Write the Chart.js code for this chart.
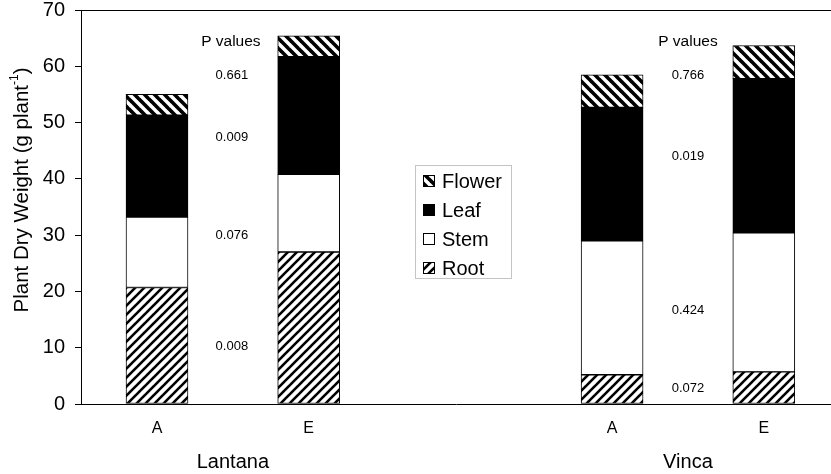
<!DOCTYPE html>
<html>
<head>
<meta charset="utf-8">
<script src="https://cdn.jsdelivr.net/npm/chart.js@4/dist/chart.umd.min.js"></script>
<style>
  html,body{margin:0;padding:0;background:#fff;}
  #wrap{width:831px;height:474px;position:relative;}
</style>
</head>
<body>
<div id="wrap"><canvas id="c" width="831" height="474"></canvas></div>
<script>
/* Plant dry weight by organ, Lantana and Vinca */
const positions=[1,2,4,5];
const tickLabels=['A','E','A','E'];
const groups=['Lantana','Vinca'];
const groupPos=[1.5,4.5];
const rootVals=[20.7,27.0,5.2,5.7];
const stemVals=[12.5,13.8,23.8,24.7];
const leafVals=[18.1,20.9,23.7,27.4];
const flowerVals=[3.7,3.7,5.8,5.9];
const pHeader='P values';
const pLantana=['0.661','0.009','0.076','0.008'];
const pLantanaY=[58.4,47.4,29.9,10.2];
const pVinca=['0.766','0.019','0.424','0.072'];
const pVincaY=[58.4,44.0,16.6,2.7];
const pHeaderY=64.3;
const legendOrder=['Flower','Leaf','Stem','Root'];

const FONT='"Liberation Sans", Arial, sans-serif';

function hatch(dir,period,lw){
  const cv=document.createElement('canvas');cv.width=period;cv.height=period;
  const g=cv.getContext('2d');g.fillStyle='#fff';g.fillRect(0,0,period,period);
  g.strokeStyle='#000';g.lineWidth=lw;g.lineCap='square';
  for(let k=-1;k<=1;k++){
    g.beginPath();
    if(dir==='/'){g.moveTo(k*period,period);g.lineTo(k*period+period,0);}
    else{g.moveTo(k*period,0);g.lineTo(k*period+period,period);}
    g.stroke();
  }
  return document.getElementById('c').getContext('2d').createPattern(cv,'repeat');
}
const rootFill=hatch('/',9,2.6);
const flowerFill=hatch('\\',10,3.6);

function pts(vals){return vals.map(function(v,i){return{x:positions[i],y:v};});}
function ds(label,vals,fill){
  return{label:label,data:pts(vals),backgroundColor:fill,borderColor:'#000',borderWidth:1,barThickness:62,borderSkipped:false};
}

const extras={
  id:'extras',
  afterDraw:function(chart){
    const ctx=chart.ctx,x=chart.scales.x,y=chart.scales.y,a=chart.chartArea;
    ctx.save();
    // top frame line
    ctx.strokeStyle='#000';ctx.lineWidth=1;
    ctx.beginPath();ctx.moveTo(a.left,Math.round(a.top)+0.5);ctx.lineTo(a.right,Math.round(a.top)+0.5);ctx.stroke();
    ctx.fillStyle='#000';ctx.textAlign='center';ctx.textBaseline='middle';
    // group labels
    ctx.font='20px '+FONT;
    groups.forEach(function(g,i){ctx.fillText(g,x.getPixelForValue(groupPos[i]),462);});
    // p values
    ctx.font='15.5px '+FONT;
    ctx.fillText(pHeader,x.getPixelForValue(groupPos[0])-2,y.getPixelForValue(pHeaderY));
    ctx.fillText(pHeader,x.getPixelForValue(groupPos[1]),y.getPixelForValue(pHeaderY));
    ctx.font='13px '+FONT;
    pLantana.forEach(function(t,i){ctx.fillText(t,x.getPixelForValue(groupPos[0])-1,y.getPixelForValue(pLantanaY[i]));});
    pVinca.forEach(function(t,i){ctx.fillText(t,x.getPixelForValue(groupPos[1]),y.getPixelForValue(pVincaY[i]));});
    // y title with superscript
    ctx.translate(22,190);ctx.rotate(-Math.PI/2);
    ctx.textAlign='left';
    const main='Plant Dry Weight (g plant',sup='-1',end=')';
    ctx.font='20.5px '+FONT;const w1=ctx.measureText(main).width,w3=ctx.measureText(end).width;
    ctx.font='12px '+FONT;const w2=ctx.measureText(sup).width;
    let sx=-(w1+w2+w3)/2;
    ctx.font='20.5px '+FONT;ctx.fillText(main,sx,0);sx+=w1;
    ctx.font='12px '+FONT;ctx.fillText(sup,sx,-7);sx+=w2;
    ctx.font='20.5px '+FONT;ctx.fillText(end,sx,0);
    ctx.restore();
    // legend box
    ctx.save();
    const bx=415,by=165,bw=96,bh=113;
    ctx.strokeStyle='#888';ctx.lineWidth=1;ctx.setLineDash([1,1]);
    ctx.strokeRect(bx+0.5,by+0.5,bw,bh);ctx.setLineDash([]);
    const dsByLabel={};chart.data.datasets.forEach(function(d){dsByLabel[d.label]=d;});
    ctx.font='20px '+FONT;ctx.textBaseline='middle';ctx.textAlign='left';
    legendOrder.forEach(function(l,i){
      const cy=181+i*29;const d=dsByLabel[l];
      ctx.fillStyle=d.backgroundColor;ctx.fillRect(423,cy-6,12,12);
      ctx.strokeStyle='#000';ctx.lineWidth=1;ctx.strokeRect(423.5,cy-5.5,11,11);
      ctx.fillStyle='#000';ctx.fillText(l,442,cy+1);
    });
    ctx.restore();
  }
};

new Chart(document.getElementById('c'),{
  type:'bar',
  data:{datasets:[ds('Root',rootVals,rootFill),ds('Stem',stemVals,'#fff'),ds('Leaf',leafVals,'#000'),ds('Flower',flowerVals,flowerFill)]},
  options:{
    responsive:false,animation:false,
    layout:{padding:{top:10,right:0,left:0,bottom:0}},
    plugins:{legend:{display:false},tooltip:{enabled:false}},
    scales:{
      x:{type:'linear',stacked:true,min:0.499,max:5.443,offset:false,
        afterBuildTicks:function(s){s.ticks=positions.map(function(p){return{value:p};});},
        afterFit:function(s){s.height=70;s.paddingLeft=0;s.paddingRight=0;},
        ticks:{color:'#000',font:{family:FONT,size:16},padding:15,autoSkip:false,maxRotation:0,
          callback:function(v){const i=positions.indexOf(v);return i>=0?tickLabels[i]:'';}},
        grid:{display:false,offset:false,drawOnChartArea:false,drawTicks:false},
        border:{display:true,color:'#000',width:1}},
      y:{stacked:true,min:0,max:70,
        afterFit:function(s){s.width=81;s.paddingTop=0;s.paddingBottom=0;},
        ticks:{stepSize:10,color:'#000',font:{family:FONT,size:20},padding:10},
        grid:{drawOnChartArea:false,drawTicks:true,tickLength:6,color:'#000'},
        border:{color:'#000',width:1}}
    }
  },
  plugins:[extras]
});
</script>
</body>
</html>
